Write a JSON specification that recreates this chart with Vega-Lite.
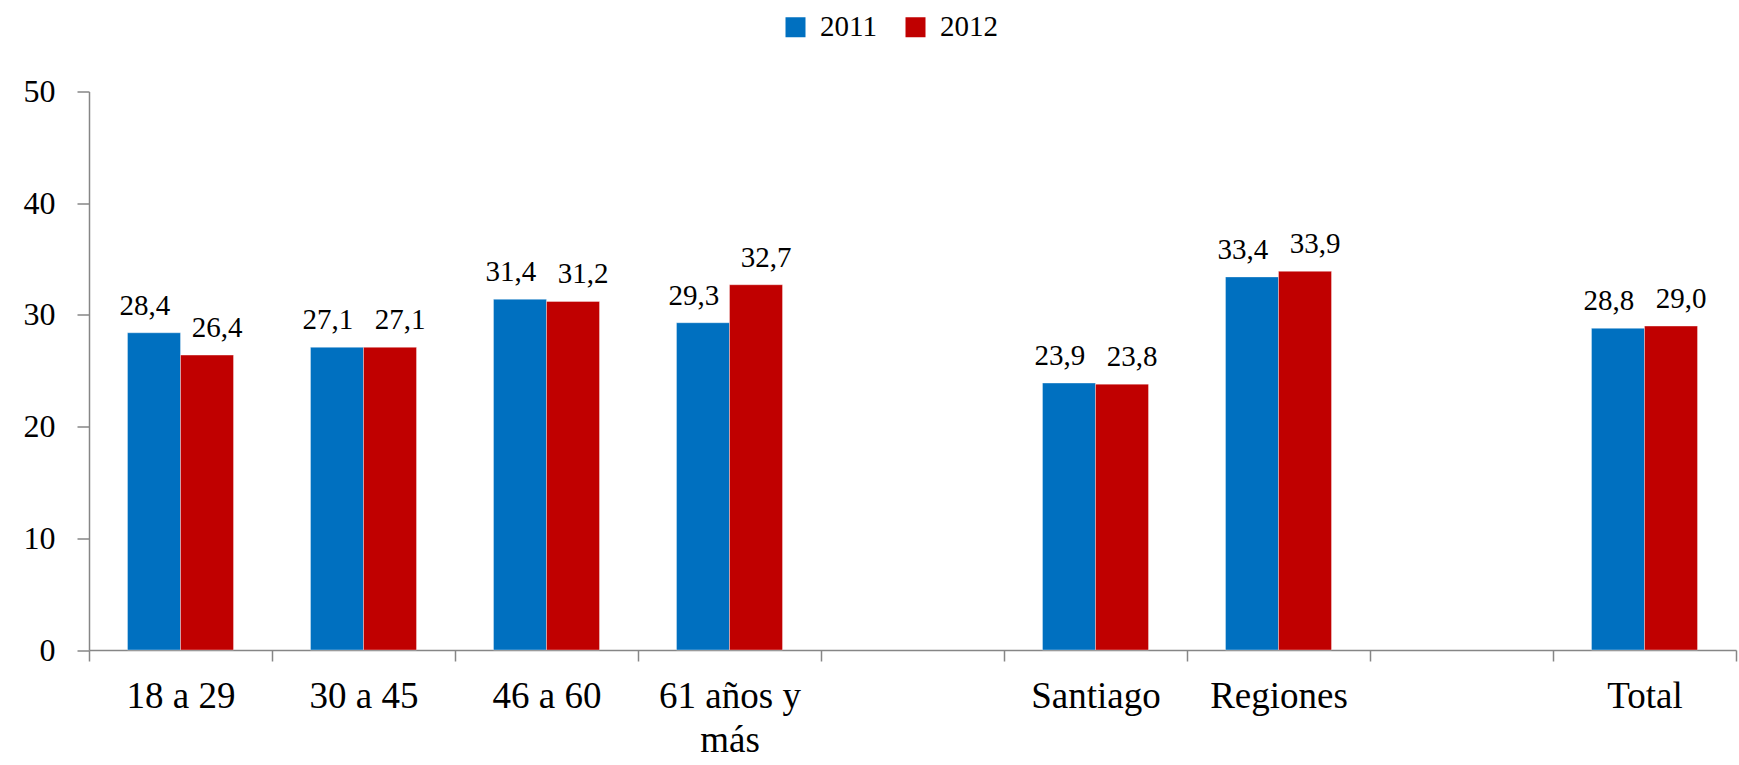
{
  "$schema": "https://vega.github.io/schema/vega-lite/v6.json",
  "width": 1647,
  "height": 558.5,
  "autosize": {"type": "none"},
  "padding": {"left": 89, "top": 91.5, "right": 3, "bottom": 115},
  "config": {
    "locale": {"number": {"decimal": ",", "thousands": ".", "grouping": [3], "currency": ["", ""]}},
    "view": {"stroke": null},
    "font": "Liberation Serif",
    "text": {"font": "Liberation Serif"},
    "axis": {"labelFont": "Liberation Serif"},
    "legend": {"labelFont": "Liberation Serif"}
  },
  "data": {
    "values": [
      {"cat": "18 a 29", "year": "2011", "value": 28.4},
      {"cat": "18 a 29", "year": "2012", "value": 26.4},
      {"cat": "30 a 45", "year": "2011", "value": 27.1},
      {"cat": "30 a 45", "year": "2012", "value": 27.1},
      {"cat": "46 a 60", "year": "2011", "value": 31.4},
      {"cat": "46 a 60", "year": "2012", "value": 31.2},
      {"cat": "61 años y más", "year": "2011", "value": 29.3},
      {"cat": "61 años y más", "year": "2012", "value": 32.7},
      {"cat": "Santiago", "year": "2011", "value": 23.9},
      {"cat": "Santiago", "year": "2012", "value": 23.8},
      {"cat": "Regiones", "year": "2011", "value": 33.4},
      {"cat": "Regiones", "year": "2012", "value": 33.9},
      {"cat": "Total", "year": "2011", "value": 28.8},
      {"cat": "Total", "year": "2012", "value": 29.0}
    ]
  },
  "encoding": {
    "x": {
      "field": "cat",
      "type": "nominal",
      "sort": ["18 a 29", "30 a 45", "46 a 60", "61 años y más", "blank1", "Santiago", "Regiones", "blank2", "Total"],
      "scale": {
        "domain": ["18 a 29", "30 a 45", "46 a 60", "61 años y más", "blank1", "Santiago", "Regiones", "blank2", "Total"],
        "paddingInner": 0,
        "paddingOuter": 0
      },
      "axis": {
        "title": null,
        "labelAngle": 0,
        "domainColor": "#868686",
        "domainWidth": 1.5,
        "tickColor": "#868686",
        "tickWidth": 1.5,
        "tickSize": 11,
        "tickBand": "extent",
        "labelFontSize": 37,
        "labelColor": "#000000",
        "labelPadding": 17,
        "labelLineHeight": 44,
        "labelFont": "Liberation Serif",
        "labelExpr": "datum.label == '61 años y más' ? ['61 años y', 'más'] : (datum.label == 'blank1' || datum.label == 'blank2' ? '' : datum.label)"
      }
    },
    "xOffset": {
      "field": "year",
      "type": "nominal",
      "scale": {"paddingOuter": 0.726, "paddingInner": 0}
    },
    "y": {
      "field": "value",
      "type": "quantitative",
      "scale": {"domain": [0, 50], "nice": false},
      "axis": {
        "title": null,
        "grid": false,
        "values": [0, 10, 20, 30, 40, 50],
        "domainColor": "#868686",
        "domainWidth": 1.5,
        "tickColor": "#868686",
        "tickWidth": 1.5,
        "tickSize": 12,
        "labelFontSize": 32,
        "labelColor": "#000000",
        "labelPadding": 22,
        "labelFont": "Liberation Serif"
      }
    }
  },
  "layer": [
    {
      "mark": {"type": "bar", "stroke": "#ffffff", "strokeWidth": 0.6, "strokeOpacity": 0.6},
      "encoding": {
        "color": {
          "field": "year",
          "type": "nominal",
          "scale": {"domain": ["2011", "2012"], "range": ["#0070C0", "#C00000"]},
          "legend": {
            "orient": "none",
            "legendX": 692,
            "legendY": -79,
            "direction": "horizontal",
            "title": null,
            "symbolType": "square",
            "symbolSize": 400,
            "symbolStrokeWidth": 0,
            "symbolOpacity": 1,
            "labelFontSize": 29,
            "labelFont": "Liberation Serif",
            "labelColor": "#000000",
            "labelOffset": 10,
            "columnPadding": 24
          }
        }
      }
    },
    {
      "transform": [{"filter": "datum.year == '2011'"}],
      "mark": {"type": "text", "font": "Liberation Serif", "dx": -9, "dy": -18, "baseline": "alphabetic", "fontSize": 29, "color": "#000000"},
      "encoding": {"text": {"field": "value", "type": "quantitative", "format": ".1f"}}
    },
    {
      "transform": [{"filter": "datum.year == '2012'"}],
      "mark": {"type": "text", "font": "Liberation Serif", "dx": 10, "dy": -18, "baseline": "alphabetic", "fontSize": 29, "color": "#000000"},
      "encoding": {"text": {"field": "value", "type": "quantitative", "format": ".1f"}}
    }
  ]
}
